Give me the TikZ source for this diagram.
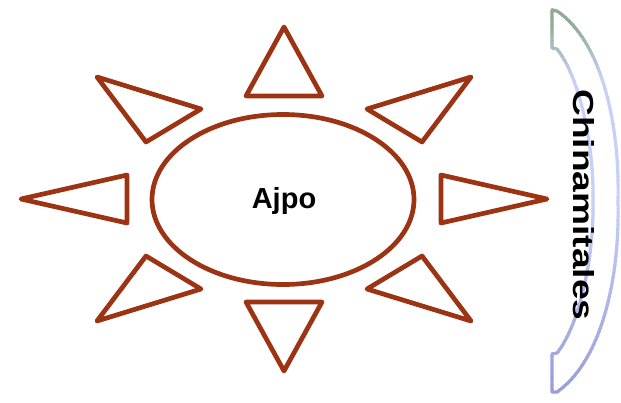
\documentclass[tikz,border=0pt]{standalone}
\usepackage{fontspec}
\setmainfont{Liberation Sans}
\usepackage{graphicx}
\usetikzlibrary{shapes.geometric}
\definecolor{rust}{RGB}{156,51,18}
\definecolor{bTop}{RGB}{145,170,148}
\definecolor{bMid}{RGB}{200,208,245}
\definecolor{bBot}{RGB}{152,158,214}
\tikzset{
  ray/.style={draw=rust, line width=4.7pt, line join=round, fill=white},
  core/.style={draw=rust, line width=4.7pt, ellipse, fill=white},
  bracepath/.style={insert path={
    (552,10) -- (557,11) .. controls (600,40) and (620,120) .. (618,201)
    .. controls (620,282) and (600,362) .. (557,392) -- (552,392) -- (552,354) -- (557,353)
    .. controls (578,327) and (594,262) .. (593,201)
    .. controls (594,140) and (578,75) .. (557,49) -- (552,48) -- cycle}},
  lbl/.style={font=\fontsize{29}{29}\selectfont\bfseries, text=black, inner sep=0pt}
}
\begin{document}
\begin{tikzpicture}[x=1pt,y=-1pt]
\useasboundingbox (0,0) rectangle (621,402);
% brace with vertical gradient outline
\foreach \y in {0,4,...,400}{
  \pgfmathsetmacro\pone{max(0,min(100,100-(\y-22)/55*100))}
  \pgfmathsetmacro\ptwo{max(0,min(100,100-(\y-200)/192*100))}
  \colorlet{tmpc}{bMid!\ptwo!bBot}
  \colorlet{bandc}{bTop!\pone!tmpc}
  \begin{scope}
    \clip (530,\y) rectangle (621,\y+4.6);
    \draw[bandc, line width=3.2pt, line join=round, bracepath];
  \end{scope}
}
\node[lbl, rotate=-90] (chin) at (584,205) {\scalebox{1.28}[1]{Chinamitales}};
% rays
\draw[ray] (284,27) -- (322,96) -- (246,96) -- cycle;
\draw[ray] (284,371) -- (322,302) -- (246,302) -- cycle;
\draw[ray] (547,199) -- (441,175) -- (441,223) -- cycle;
\draw[ray] (21,199) -- (127,175) -- (127,223) -- cycle;
\draw[ray] (471,77) -- (367,109) -- (422,142) -- cycle;
\draw[ray] (97,77) -- (201,109) -- (146,142) -- cycle;
\draw[ray] (471,321) -- (367,289) -- (422,256) -- cycle;
\draw[ray] (97,321) -- (201,289) -- (146,256) -- cycle;
% core
\node[core, minimum width=262pt, minimum height=170pt, inner sep=0pt] (sun) at (283,199.5) {};
\node[lbl] (ajpo) at (284,201) {Ajpo};
\end{tikzpicture}
\end{document}
